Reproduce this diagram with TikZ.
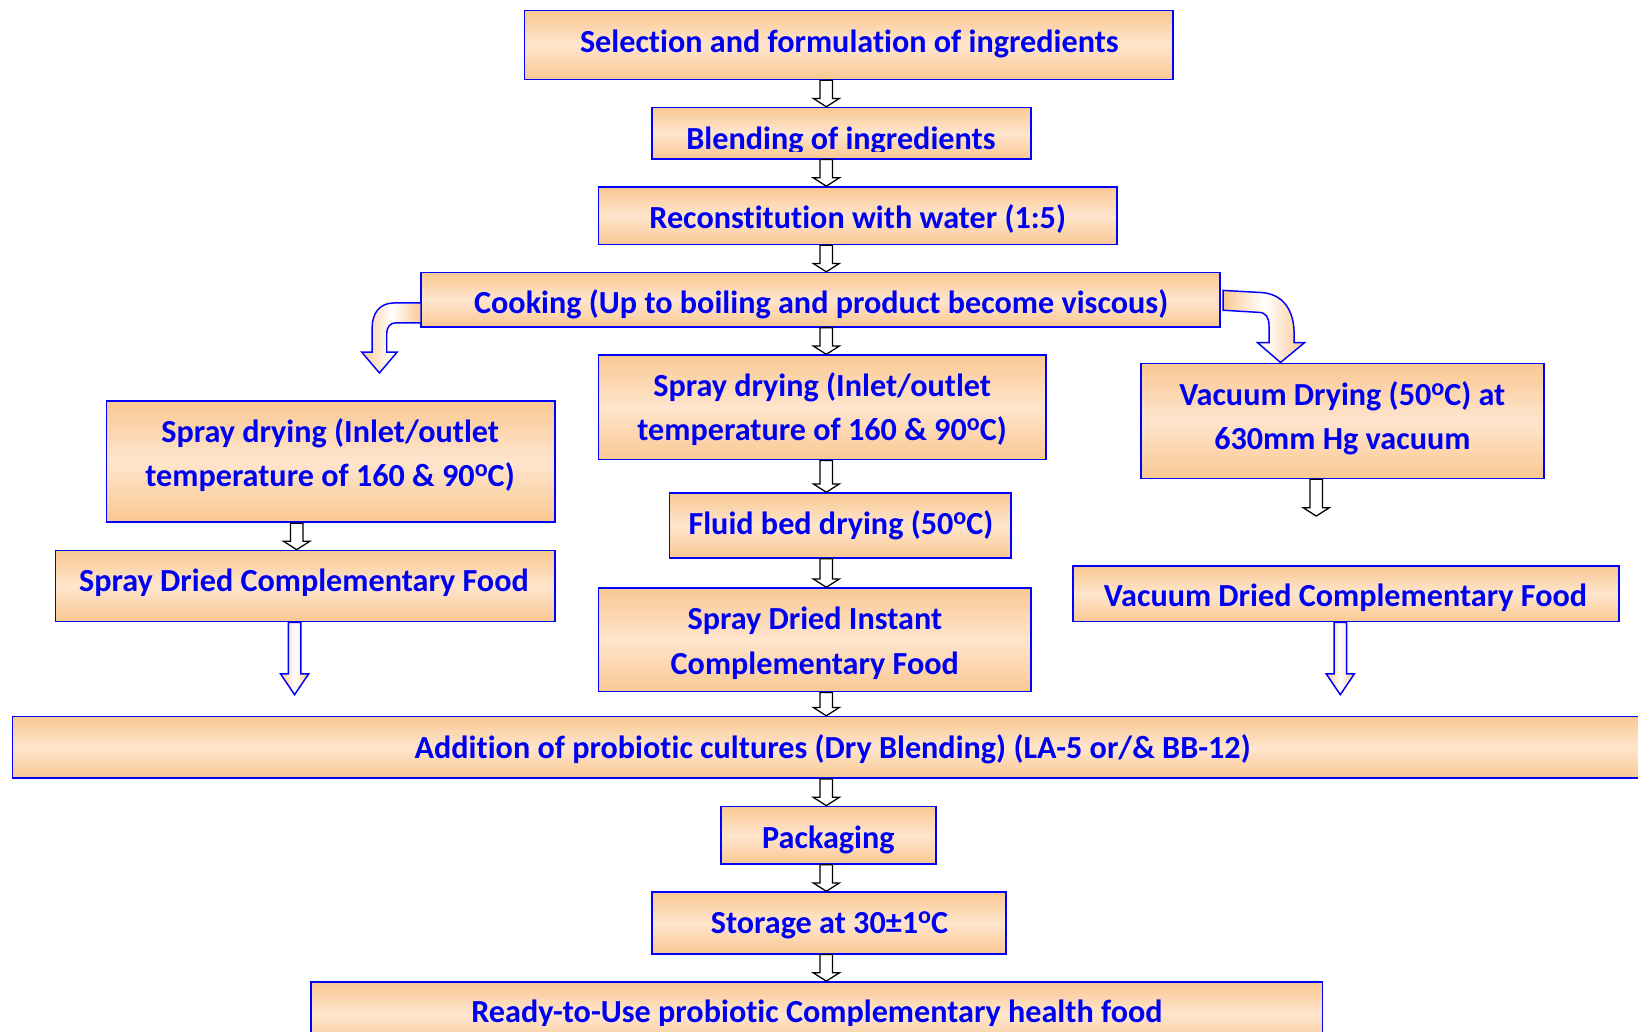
\documentclass[tikz,border=0pt]{standalone}
\usepackage{fontspec}
\setmainfont{Carlito}[Ligatures=NoCommon]
\usetikzlibrary{calc}

\definecolor{peach}{RGB}{250,200,146}
\definecolor{cream}{RGB}{254,229,205}
\definecolor{txtblue}{RGB}{0,0,240}
\definecolor{lineblue}{RGB}{0,0,255}

\tikzset{
  boxtext/.style={text=txtblue, inner sep=0pt, anchor=base,
    font=\fontsize{30.8}{42}\selectfont\bfseries},
  stepbox/.style={draw=lineblue, line width=1.6pt, inner sep=0pt,
    top color=peach, bottom color=peach, middle color=cream},
  hollow/.style={draw=black, fill=white, line width=1.2pt, line join=miter},
  blockarrow/.style={draw=lineblue, line width=1.4pt, line join=miter,
    left color=peach, right color=peach, middle color=white},
}

% raised small "o" used as the degree sign
\newcommand\dego{\raisebox{9.5pt}{\fontsize{23}{23}\selectfont o}}

% step box: name, centre, width, height
\newcommand\stepnode[4]{%
  \node[stepbox, minimum width=#3, minimum height=#4] (#1) at (#2) {};}

% small white arrow with black outline, from #1 down to the tip #2
\newcommand\hollowarrow[2]{%
  \path[hollow] let \p1=(#1), \p2=(#2) in
    (\x1-6pt,\y1) -- (\x1+6pt,\y1) -- (\x1+6pt,\y2+8pt) -- (\x1+12.5pt,\y2+8pt)
    -- (\x1,\y2) -- (\x1-12.5pt,\y2+8pt) -- (\x1-6pt,\y2+8pt) -- cycle;}

% larger shaded arrow with blue outline, from #1 down to the tip #2
\newcommand\blockdown[2]{%
  \path[blockarrow] let \p1=(#1), \p2=(#2) in
    (\x1-6pt,\y1) -- (\x1+6pt,\y1) -- (\x1+6pt,\y2+20pt) -- (\x1+13.5pt,\y2+20pt)
    -- (\x1,\y2) -- (\x1-13.5pt,\y2+20pt) -- (\x1-6pt,\y2+20pt) -- cycle;}

\begin{document}
\begin{tikzpicture}[x=1pt, y=-1pt]
\useasboundingbox (0,0) rectangle (1568,987);
\clip (0,0) rectangle (1568,987);

% ---- boxes ----
\stepnode{sel}{812.5,43}{621pt}{66pt}
\stepnode{blend}{805.5,127.5}{363pt}{49pt}
\stepnode{recon}{821,206.5}{496pt}{55pt}
\stepnode{cook}{785.5,287}{765pt}{52pt}
\stepnode{sprL}{316.5,442}{429pt}{116pt}
\stepnode{sprM}{787,390}{428pt}{100pt}
\stepnode{vac}{1285,403}{386pt}{110pt}
\stepnode{fluid}{804.5,503}{327pt}{62pt}
\stepnode{sdcf}{292,561}{478pt}{68pt}
\stepnode{inst}{780,612.5}{414pt}{99pt}
\stepnode{vdcf}{1288.5,568.5}{523pt}{53pt}
\stepnode{add}{797,715.5}{1570pt}{59pt}
\stepnode{pack}{793,799.5}{206pt}{55pt}
\stepnode{store}{793.5,883.5}{339pt}{59pt}
\stepnode{ready}{782,971}{968pt}{62pt}

% ---- texts ----
\node[boxtext] (selT) at (813,50) {Selection and formulation of ingredients};
\begin{scope}
  \clip (blend.north west) rectangle ([yshift=8pt]blend.south east);
  \node[boxtext] (blendT) at (805,143) {Blending of ingredients};
\end{scope}
\node[boxtext] (reconT) at (821,219) {Reconstitution with water (1:5)};
\node[boxtext] (cookT) at (786,300) {Cooking (Up to boiling and product become viscous)};
\node[boxtext] (sprLa) at (316,424) {Spray drying (Inlet/outlet};
\node[boxtext] (sprLb) at (316,466) {temperature of 160 \& 90\dego C)};
\node[boxtext] (sprMa) at (787,380) {Spray drying (Inlet/outlet};
\node[boxtext] (sprMb) at (787,422) {temperature of 160 \& 90\dego C)};
\node[boxtext] (vaca) at (1285,388) {Vacuum Drying (50\dego C) at};
\node[boxtext] (vacb) at (1285,430) {630mm Hg vacuum};
\node[boxtext] (fluidT) at (805,512) {Fluid bed drying (50\dego C)};
\node[boxtext] (sdcfT) at (291,566) {Spray Dried Complementary Food};
\node[boxtext] (insta) at (780,603) {Spray Dried Instant};
\node[boxtext] (instb) at (780,646) {Complementary Food};
\node[boxtext] (vdcfT) at (1288,581) {Vacuum Dried Complementary Food};
\node[boxtext] (addT) at (797,726) {Addition of probiotic cultures (Dry Blending) (LA-5 or/\& BB-12)};
\node[boxtext] (packT) at (793,812) {Packaging};
\node[boxtext] (storeT) at (794,894) {Storage at 30±1\dego C};
\begin{scope}
  \clip (ready.north west) rectangle ([yshift=21pt]ready.south east);
  \node[boxtext] (readyT) at (782,979) {Ready-to-Use probiotic Complementary health food};
\end{scope}

% ---- arrow columns ----
\coordinate (col) at (791,0);
\coordinate (lcol) at (284,0);
\coordinate (vtip) at (1260,494);
\coordinate (ltip) at (282,665);
\coordinate (rtip) at (1283,665);

\hollowarrow{sel.south -| col}{blend.north -| col}
\hollowarrow{blend.south -| col}{recon.north -| col}
\hollowarrow{recon.south -| col}{cook.north -| col}
\hollowarrow{cook.south -| col}{sprM.north -| col}
\hollowarrow{sprM.south -| col}{fluid.north -| col}
\hollowarrow{fluid.south -| col}{inst.north -| col}
\hollowarrow{inst.south -| col}{add.north -| col}
\hollowarrow{add.south -| col}{pack.north -| col}
\hollowarrow{pack.south -| col}{store.north -| col}
\hollowarrow{store.south -| col}{ready.north -| col}
\hollowarrow{sprL.south -| lcol}{sdcf.north -| lcol}
\hollowarrow{vac.south -| vtip}{vtip}

\blockdown{sdcf.south -| ltip}{ltip}
\blockdown{vdcf.south -| rtip}{rtip}

% curved branch arrows leaving the cooking step
\begin{scope}[shift={(cook.west)}]
  \path[blockarrow] (1,3) -- (-25,3) .. controls (-39,3) and (-46,13) .. (-46,27)
    -- (-46,50) -- (-56,50) -- (-39,70) -- (-22,50) -- (-32,50) -- (-32,33)
    .. controls (-32,26) and (-29,22) .. (-23,22) -- (1,22) -- cycle;
\end{scope}
\begin{scope}[shift={(cook.east)}]
  \path[blockarrow] (2,-9) -- (38,-7) .. controls (60,-6) and (70,11) .. (70,32)
    -- (70,41) -- (80,41) -- (57,60) -- (35,41) -- (46,41) -- (46,25)
    .. controls (46,17) and (43,12) .. (36,12) -- (2,10) -- cycle;
\end{scope}
\end{tikzpicture}
\end{document}
